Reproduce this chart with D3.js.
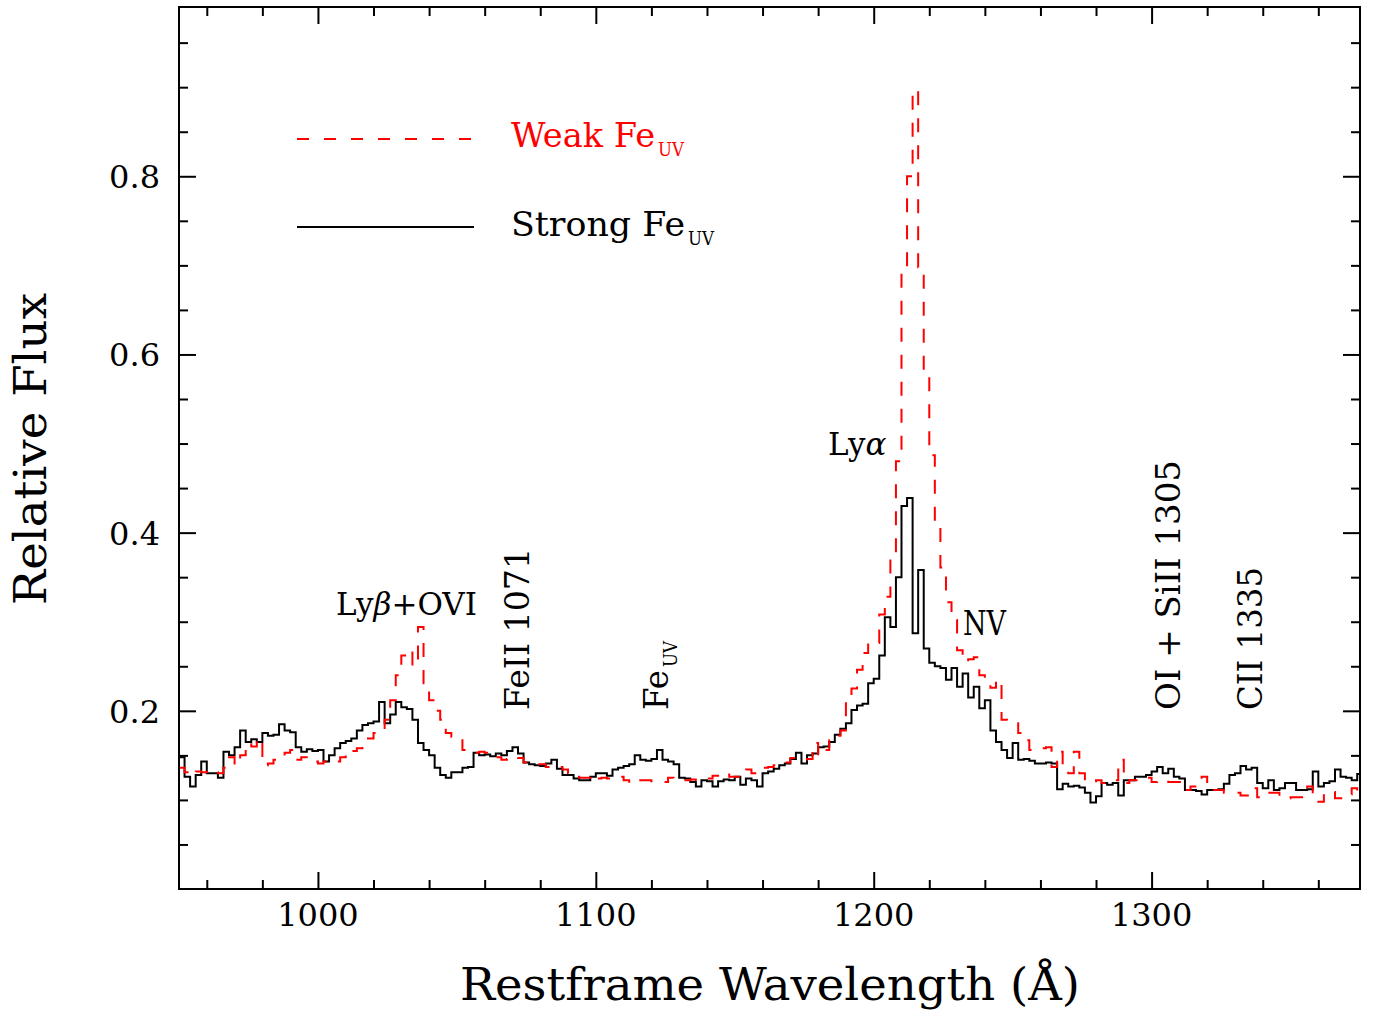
<!DOCTYPE html>
<meta charset="utf-8">
<style>
body { margin: 0; background: #fff; }
text { font-family: "DejaVu Serif", serif; fill: #000; }
</style>
<body>
<script src="https://d3js.org/d3.v7.min.js"></script>
<script>
var width = 1379,
    height = 1015;
var margin = {left: 179, right: 19, top: 7, bottom: 126};

// composite spectra, 2 A bins starting at 950 A
var binStart = 950, binWidth = 2;
var strongFe = [
  0.148,0.126,0.115,0.128,0.143,0.130,0.130,0.125,0.154,0.150,
  0.159,0.178,0.165,0.168,0.165,0.175,0.172,0.173,0.185,0.178,
  0.176,0.159,0.154,0.157,0.155,0.156,0.143,0.150,0.158,0.164,
  0.166,0.169,0.178,0.184,0.186,0.188,0.210,0.186,0.196,0.210,
  0.204,0.202,0.190,0.164,0.156,0.150,0.136,0.128,0.125,0.131,
  0.131,0.136,0.137,0.153,0.150,0.151,0.149,0.152,0.150,0.155,
  0.159,0.152,0.142,0.140,0.139,0.138,0.141,0.145,0.135,0.128,
  0.128,0.124,0.122,0.122,0.126,0.130,0.130,0.127,0.134,0.136,
  0.138,0.140,0.150,0.145,0.144,0.146,0.156,0.145,0.143,0.140,
  0.125,0.124,0.120,0.115,0.122,0.121,0.115,0.121,0.123,0.122,
  0.126,0.117,0.124,0.122,0.115,0.130,0.132,0.135,0.139,0.141,
  0.146,0.153,0.141,0.150,0.152,0.159,0.160,0.165,0.173,0.180,
  0.186,0.201,0.206,0.208,0.231,0.236,0.262,0.305,0.294,0.350,
  0.430,0.439,0.287,0.358,0.270,0.254,0.250,0.248,0.235,0.248,
  0.227,0.242,0.215,0.227,0.203,0.212,0.178,0.165,0.156,0.147,
  0.164,0.145,0.146,0.144,0.141,0.141,0.142,0.141,0.112,0.118,
  0.115,0.116,0.114,0.108,0.097,0.104,0.119,0.117,0.119,0.105,
  0.122,0.122,0.126,0.126,0.128,0.132,0.137,0.130,0.135,0.126,
  0.124,0.111,0.111,0.110,0.106,0.111,0.111,0.112,0.118,0.128,
  0.130,0.138,0.134,0.136,0.119,0.113,0.122,0.111,0.113,0.119,
  0.119,0.111,0.111,0.112,0.132,0.115,0.119,0.121,0.134,0.126,
  0.125,0.122,0.129
];
var weakFe = [
  0.136,0.131,0.128,0.132,0.131,0.133,0.131,0.130,0.136,0.148,
  0.139,0.150,0.164,0.160,0.169,0.139,0.141,0.145,0.146,0.153,
  0.156,0.145,0.148,0.143,0.143,0.141,0.143,0.142,0.143,0.148,
  0.156,0.155,0.158,0.162,0.169,0.175,0.178,0.190,0.212,0.240,
  0.262,0.268,0.250,0.294,0.231,0.212,0.200,0.190,0.175,0.171,
  0.170,0.156,0.154,0.153,0.154,0.153,0.152,0.148,0.145,0.146,
  0.148,0.147,0.142,0.141,0.140,0.140,0.137,0.138,0.137,0.134,
  0.130,0.126,0.125,0.125,0.128,0.124,0.125,0.124,0.126,0.126,
  0.122,0.119,0.120,0.122,0.122,0.121,0.120,0.120,0.125,0.124,
  0.122,0.122,0.123,0.122,0.123,0.124,0.127,0.130,0.130,0.126,
  0.126,0.128,0.134,0.130,0.133,0.136,0.137,0.139,0.141,0.142,
  0.147,0.145,0.145,0.146,0.164,0.150,0.156,0.167,0.172,0.178,
  0.212,0.225,0.246,0.265,0.277,0.276,0.308,0.328,0.370,0.480,
  0.695,0.800,0.897,0.698,0.579,0.487,0.412,0.361,0.322,0.302,
  0.268,0.255,0.258,0.260,0.240,0.230,0.226,0.235,0.190,0.187,
  0.186,0.175,0.167,0.156,0.158,0.158,0.159,0.137,0.154,0.134,
  0.130,0.154,0.130,0.120,0.121,0.122,0.119,0.122,0.122,0.145,
  0.119,0.122,0.122,0.125,0.125,0.120,0.122,0.122,0.120,0.120,
  0.120,0.111,0.115,0.115,0.126,0.120,0.111,0.111,0.108,0.108,
  0.108,0.105,0.105,0.113,0.103,0.103,0.108,0.108,0.102,0.102,
  0.103,0.103,0.103,0.115,0.103,0.098,0.109,0.109,0.102,0.102,
  0.106,0.113,0.103
];

var xMajor = [1000, 1100, 1200, 1300];
var xMinor = d3.range(960, 1375, 20).filter(function(v) { return v % 100 != 0; });
var yMajor = [0.2, 0.4, 0.6, 0.8];
var yMinor = d3.range(1, 20).map(function(i) { return i * 0.05; })
    .filter(function(v, i) { return (i + 1) % 4 != 0; });

var svg = d3.select("body").append("svg")
    .attr("width", width)
    .attr("height", height);

var x = d3.scaleLinear().domain([950, 1375]).range([margin.left, width - margin.right]);
var y = d3.scaleLinear().domain([0, 0.99]).range([height - margin.bottom, margin.top]);

svg.append("clipPath").attr("id", "plot")
  .append("rect")
    .attr("x", margin.left).attr("y", margin.top)
    .attr("width", x.range()[1] - margin.left)
    .attr("height", y.range()[0] - margin.top);

function steps(vals) {
  var pts = vals.map(function(v, i) { return [binStart + i * binWidth, v]; });
  pts.push([binStart + vals.length * binWidth, vals[vals.length - 1]]);
  return pts;
}
var line = d3.line()
    .x(function(d) { return x(d[0]); })
    .y(function(d) { return y(d[1]); })
    .curve(d3.curveStepAfter);

svg.append("path")
    .attr("clip-path", "url(#plot)")
    .attr("d", line(steps(strongFe)))
    .attr("fill", "none")
    .attr("stroke", "#000")
    .attr("stroke-width", 2);

svg.append("path")
    .attr("clip-path", "url(#plot)")
    .attr("d", line(steps(weakFe)))
    .attr("fill", "none")
    .attr("stroke", "#ff0000")
    .attr("stroke-width", 2)
    .attr("stroke-dasharray", "14,13");

// ticks on all four sides, pointing in
var x0 = margin.left, x1 = width - margin.right;
var y0 = height - margin.bottom, y1 = margin.top;
function ticks(axis, scale, values, size, tx, ty) {
  var g = svg.append("g")
      .attr("transform", "translate(" + tx + "," + ty + ")")
      .call(axis(scale).tickValues(values).tickSizeInner(-size).tickSizeOuter(0).tickFormat(""));
  g.select(".domain").remove();
  g.selectAll("line").attr("stroke-width", 2);
}
ticks(d3.axisBottom, x, xMajor, 17, 0, y0);
ticks(d3.axisBottom, x, xMinor, 9, 0, y0);
ticks(d3.axisTop, x, xMajor, 17, 0, y1);
ticks(d3.axisTop, x, xMinor, 9, 0, y1);
ticks(d3.axisLeft, y, yMajor, 17, x0, 0);
ticks(d3.axisLeft, y, yMinor, 9, x0, 0);
ticks(d3.axisRight, y, yMajor, 17, x1, 0);
ticks(d3.axisRight, y, yMinor, 9, x1, 0);

svg.append("rect")
    .attr("x", x0).attr("y", y1)
    .attr("width", x1 - x0).attr("height", y0 - y1)
    .attr("fill", "none").attr("stroke", "#000").attr("stroke-width", 2);

svg.selectAll(".xlab").data(xMajor).enter().append("text")
    .attr("x", function(d) { return x(d); })
    .attr("y", 926)
    .attr("text-anchor", "middle")
    .attr("font-size", 32)
    .text(function(d) { return d; });

svg.selectAll(".ylab").data(yMajor).enter().append("text")
    .attr("x", 160)
    .attr("y", function(d) { return y(d) + 12; })
    .attr("text-anchor", "end")
    .attr("font-size", 32)
    .text(function(d) { return d3.format(".1f")(d); });

svg.append("text")
    .attr("x", 460).attr("y", 1000)
    .attr("font-size", 44)
    .attr("textLength", 620)
    .attr("lengthAdjust", "spacingAndGlyphs")
    .text("Restframe Wavelength (Å)");

svg.append("text")
    .attr("transform", "translate(46,605) rotate(-90)")
    .attr("font-size", 44)
    .attr("textLength", 312)
    .attr("lengthAdjust", "spacingAndGlyphs")
    .text("Relative Flux");

// legend
svg.append("line")
    .attr("x1", 297).attr("x2", 474).attr("y1", 139).attr("y2", 139)
    .attr("stroke", "#ff0000").attr("stroke-width", 2)
    .attr("stroke-dasharray", "12,15");
svg.append("line")
    .attr("x1", 297).attr("x2", 474).attr("y1", 227).attr("y2", 227)
    .attr("stroke", "#000").attr("stroke-width", 2);

function label(g, tx, ty, str, len, opts) {
  opts = opts || {};
  return g.append("text")
      .attr("x", tx).attr("y", ty)
      .attr("font-size", opts.size || 34)
      .attr("textLength", len)
      .attr("lengthAdjust", "spacingAndGlyphs")
      .style("fill", opts.color || "#000")
      .text(str);
}
function subLabel(g, main, sub, mainLen, subLen, color) {
  label(g, 0, 0, main, mainLen, {color: color});
  label(g, mainLen + 3, 9, sub, subLen, {size: 18, color: color});
}
subLabel(svg.append("g").attr("transform", "translate(511,147)"), "Weak Fe", "UV", 144, 26, "#ff0000");
subLabel(svg.append("g").attr("transform", "translate(511,236)"), "Strong Fe", "UV", 174, 26, "#000");

// line identifications (greek letters in italics)
function greekLabel(tx, ty, before, greek, after) {
  var t = svg.append("text").attr("x", tx).attr("y", ty).attr("font-size", 31);
  t.append("tspan").text(before);
  t.append("tspan").attr("font-style", "italic").text(greek);
  if (after) t.append("tspan").text(after);
}
greekLabel(336, 615, "Ly", "β", "+OVI");
greekLabel(828, 455, "Ly", "α");
label(svg, 963, 635, "NV", 43);

function vertical(tx, str, len) {
  label(svg.append("g").attr("transform", "translate(" + tx + ",710) rotate(-90)"), 0, 0, str, len);
}
vertical(529, "FeII 1071", 162);
vertical(1180, "OI + SiII 1305", 250);
vertical(1262, "CII 1335", 143);
subLabel(svg.append("g").attr("transform", "translate(668,710) rotate(-90)"), "Fe", "UV", 40, 26, "#000");
</script>
</body>
